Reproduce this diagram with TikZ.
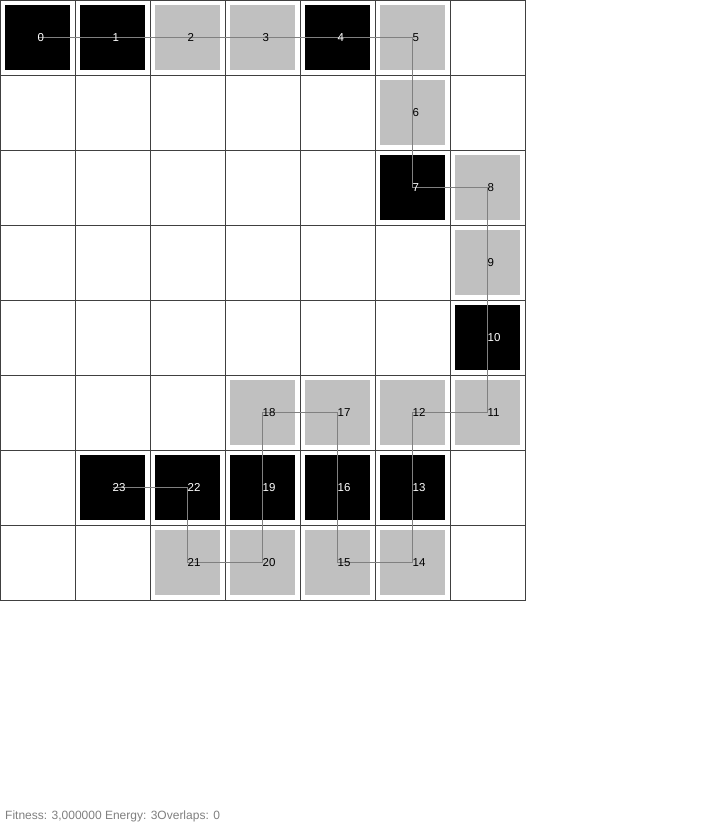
\documentclass[tikz,border=0pt]{standalone}
\usepackage{fontspec}
\setmainfont{Liberation Sans}
\definecolor{cellgray}{HTML}{C0C0C0}
\definecolor{gridc}{HTML}{404040}
\definecolor{chainc}{HTML}{808080}
\begin{document}
\begin{tikzpicture}[x=1pt,y=-1pt,
  gridline/.style={draw=gridc,line width=1pt},
  hsq/.style={fill=black,draw=none},
  psq/.style={fill=cellgray,draw=none},
  chain/.style={draw=chainc,line width=1pt},
  lab/.style={anchor=base west,inner sep=0pt,font=\fontsize{11.5}{13}\selectfont},
  info/.style={anchor=base west,inner sep=0pt,text=chainc,font=\fontsize{12}{14}\selectfont}]
\useasboundingbox (0,0) rectangle (704,825);
\fill[white] (0,0) rectangle (704,825);
% grid
\foreach \i in {0,...,7} \draw[gridline] (75*\i+0.5,0) -- (75*\i+0.5,601);
\foreach \j in {0,...,8} \draw[gridline] (0,75*\j+0.5) -- (526,75*\j+0.5);
% residues: index/col/row/type (1=black)
\foreach \n/\c/\r/\t in {0/0/0/1,1/1/0/1,2/2/0/0,3/3/0/0,4/4/0/1,5/5/0/0,6/5/1/0,7/5/2/1,8/6/2/0,9/6/3/0,10/6/4/1,11/6/5/0,12/5/5/0,13/5/6/1,14/5/7/0,15/4/7/0,16/4/6/1,17/4/5/0,18/3/5/0,19/3/6/1,20/3/7/0,21/2/7/0,22/2/6/1,23/1/6/1}{
  \ifnum\t=1
    \path[hsq] (75*\c+5,75*\r+5) rectangle (75*\c+70,75*\r+70);
  \else
    \path[psq] (75*\c+5,75*\r+5) rectangle (75*\c+70,75*\r+70);
  \fi
  \coordinate (p\n) at (75*\c+37.5,75*\r+37.5);
}
% chain
\draw[chain] (p0) \foreach \k in {1,...,23}{ -- (p\k)};
% labels
\foreach \n/\t in {0/1,1/1,2/0,3/0,4/1,5/0,6/0,7/1,8/0,9/0,10/1,11/0,12/0,13/1,14/0,15/0,16/1,17/0,18/0,19/1,20/0,21/0,22/1,23/1}{
  \ifnum\t=1
    \node[lab,text=white] (l\n) at ([yshift=-4pt]p\n) {\n};
  \else
    \node[lab,text=black] (l\n) at ([yshift=-4pt]p\n) {\n};
  \fi
}
\node[info] (info) at (5,819) {Fitness: 3,000000 Energy: 3Overlaps: 0};
\end{tikzpicture}
\end{document}
